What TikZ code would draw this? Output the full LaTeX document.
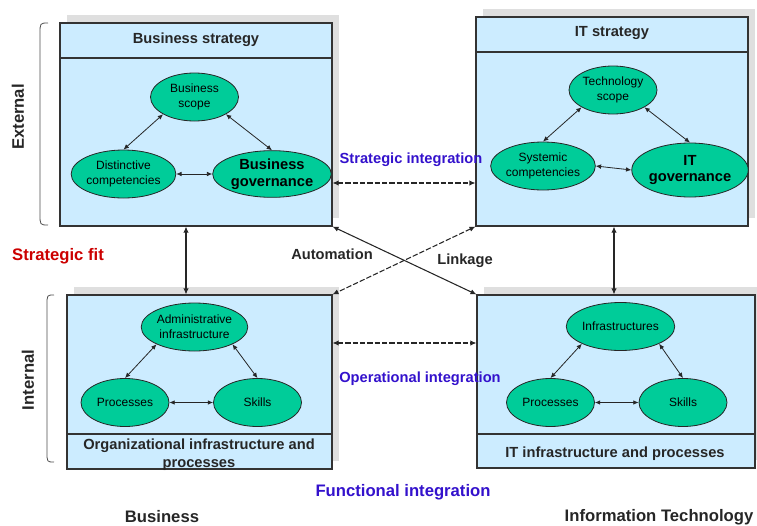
\documentclass[tikz,border=0pt]{standalone}
\usepackage{fontspec}
\setmainfont{Liberation Sans}
\usetikzlibrary{shapes.geometric, arrows.meta, fit, shadows}

\definecolor{panelblue}{HTML}{CCECFF}
\definecolor{bubblegreen}{HTML}{00CC99}
\definecolor{integblue}{HTML}{3311CC}
\definecolor{fitred}{HTML}{CC0000}
\definecolor{edgegray}{HTML}{333333}

\tikzset{
  panel/.style={draw=edgegray, fill=panelblue, line width=0.8pt, inner sep=0pt,
    drop shadow={shadow xshift=5pt, shadow yshift=6pt, opacity=0.18, fill=black!70}},
  bubble/.style={ellipse, draw=black!85, fill=bubblegreen, line width=0.6pt,
    inner sep=0pt, minimum width=66pt, minimum height=36pt, align=center,
    font=\fontsize{9}{11.5}\selectfont},
  bigbubble/.style={bubble, minimum width=89pt, minimum height=35pt,
    font=\fontsize{11}{12.7}\selectfont\bfseries},
  paneltitle/.style={font=\fontsize{11}{13.5}\selectfont\bfseries, text=black!85, align=center},
  sidelabel/.style={font=\fontsize{11}{13}\selectfont\bfseries, text=black!85},
  biglabel/.style={sidelabel, font=\fontsize{12.5}{15}\selectfont\bfseries},
  integlabel/.style={sidelabel, text=integblue},
  tri/.style={{Latex[length=4pt,width=3.5pt]}-{Latex[length=4pt,width=3.5pt]},
    line width=0.6pt, draw=black!85},
  solidlink/.style={{Latex[length=4.5pt,width=4pt]}-{Latex[length=4.5pt,width=4pt]},
    line width=0.8pt, draw=black!85},
  dashlink/.style={solidlink, dash pattern=on 4pt off 1.5pt},
  bracket/.style={line width=0.6pt, draw=black!70}
}

\begin{document}
\begin{tikzpicture}[x=0.75pt, y=-0.75pt]
  \useasboundingbox (0,0) rectangle (757,525);

  % -- panels --
  \node[panel, fit={(60,23) (332,226)}] (bsbox) {};
  \node[panel, fit={(476,17) (748,226)}] (itbox) {};
  \node[panel, fit={(67,295) (332,469)}] (oibox) {};
  \node[panel, fit={(477,295) (755,468)}] (itibox) {};

  \draw[draw=edgegray, line width=0.8pt] (bsbox.west |- 0,58) -- (bsbox.east |- 0,58);
  \draw[draw=edgegray, line width=0.8pt] (itbox.west |- 0,52) -- (itbox.east |- 0,52);
  \draw[draw=edgegray, line width=0.8pt] (oibox.west |- 0,434) -- (oibox.east |- 0,434);
  \draw[draw=edgegray, line width=0.8pt] (itibox.west |- 0,434) -- (itibox.east |- 0,434);

  \node[paneltitle] (bstitle) at (196,40) {Business strategy};
  \node[paneltitle] (ittitle) at (612,33) {IT strategy};
  \node[paneltitle] (oititle) at (199,455) {Organizational infrastructure and\\processes};
  \node[paneltitle] (ititle) at (615,454) {IT infrastructure and processes};

  % -- business strategy --
  \node[bubble] (bscope) at (194.5,97) {Business\\scope};
  \node[bubble] (bdist) at (123.5,174) {Distinctive\\competencies};
  \node[bigbubble] (bgov) at (272,174) {Business\\governance};
  \draw[tri] (bscope.south west) -- (bdist.north);
  \draw[tri] (bscope.south east) -- (bgov.north);
  \draw[tri] (bdist.east) -- (bgov.west);

  % -- IT strategy --
  \node[bubble] (tscope) at (613,90) {Technology\\scope};
  \node[bubble] (tsys) at (543,166) {Systemic\\competencies};
  \node[bigbubble, minimum width=87pt, minimum height=40.5pt] (tgov) at (690,170) {IT\\governance};
  \draw[tri] (tscope.south west) -- (tsys.north);
  \draw[tri] (tscope.south east) -- (tgov.north);
  \draw[tri] (tsys.east) -- (tgov.west);

  % -- organizational infrastructure --
  \node[bubble] (badmin) at (194.5,327) {Administrative\\infrastructure};
  \node[bubble] (bproc) at (125,402.5) {Processes};
  \node[bubble] (bskill) at (257.5,402.5) {Skills};
  \draw[tri] (badmin.south west) -- (bproc.north);
  \draw[tri] (badmin.south east) -- (bskill.north);
  \draw[tri] (bproc.east) -- (bskill.west);

  % -- IT infrastructure --
  \node[bubble] (tinfra) at (620.5,326.5) {Infrastructures};
  \node[bubble] (tproc) at (550.5,402.5) {Processes};
  \node[bubble] (tskill) at (683,402.5) {Skills};
  \draw[tri] (tinfra.south west) -- (tproc.north);
  \draw[tri] (tinfra.south east) -- (tskill.north);
  \draw[tri] (tproc.east) -- (tskill.west);

  % -- links between panels --
  \draw[dashlink] (bsbox.east |- 0,183) -- (itbox.west |- 0,183);
  \draw[dashlink] (oibox.east |- 0,343) -- (itibox.west |- 0,343);
  \draw[solidlink] (bsbox.south -| 186,0) -- (oibox.north -| 186,0);
  \draw[solidlink] (itbox.south -| 614,0) -- (itibox.north -| 614,0);
  \draw[solidlink] (bsbox.south east) -- (itibox.north west);
  \draw[dashlink] (itbox.south west) -- (oibox.north east);

  % -- labels --
  \node[integlabel] (stratint) at (411,160) {Strategic integration};
  \node[integlabel] (operint) at (420,379) {Operational integration};
  \node[biglabel, text=integblue] (funcint) at (403,492) {Functional integration};
  \node[biglabel, text=fitred] (stratfit) at (58,256) {Strategic fit};
  \node[sidelabel] (autom) at (332,254) {Automation};
  \node[sidelabel] (linkage) at (465,261) {Linkage};
  \node[biglabel] (busdomain) at (162,517) {Business};
  \node[biglabel] (itdomain) at (659,517) {Information Technology};
  \node[biglabel, rotate=90] (external) at (18,117) {External};
  \node[biglabel, rotate=90] (internal) at (28,380) {Internal};

  % -- brackets --
  \draw[bracket] (48,23) .. controls (40,23) .. (40,34) -- (40,214) .. controls (40,225) .. (48,225);
  \draw[bracket] (54,295) .. controls (47,295) .. (47,305) -- (47,452) .. controls (47,462) .. (54,462);

\end{tikzpicture}
\end{document}
